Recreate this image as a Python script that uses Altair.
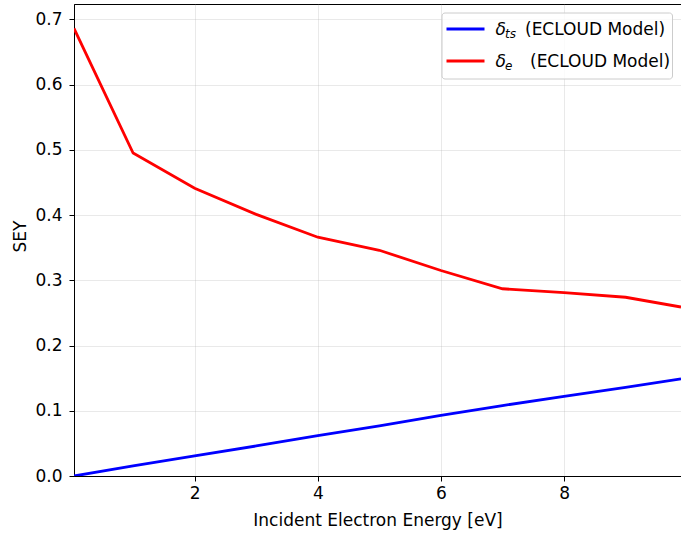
import altair as alt
import pandas as pd

# Data
energy = [0.04, 1, 2, 3, 4, 5, 6, 7, 8, 9, 9.9]
delta_ts = [0.0, 0.0155, 0.031, 0.046, 0.062, 0.077, 0.093, 0.108, 0.122, 0.136, 0.149]
delta_e = [0.686, 0.495, 0.441, 0.401, 0.366, 0.346, 0.315, 0.287, 0.281, 0.274, 0.259]

series_names = ["delta_ts", "delta_e"]
series_colors = ["#0000ff", "#ff0000"]
legend_sub = ["ts", "e"]
legend_rest = ["(ECLOUD Model)", "(ECLOUD Model)"]

y_ticks = [0.0, 0.1, 0.2, 0.3, 0.4, 0.5, 0.6, 0.7]
x_ticks = [2, 4, 6, 8]

W, H = 607, 472
FS = 17

rows = []
for i, e in enumerate(energy):
    rows.append({"E": e, "SEY": delta_ts[i], "s": "delta_ts"})
    rows.append({"E": e, "SEY": delta_e[i], "s": "delta_e"})
df = pd.DataFrame(rows)

xscale = alt.Scale(domain=[0.04, 9.9], nice=False, zero=False)
yscale = alt.Scale(domain=[0, 0.7235], nice=False)

lines = alt.Chart(df).mark_line(strokeWidth=2.8, clip=True).encode(
    x=alt.X("E:Q", scale=xscale,
            axis=alt.Axis(values=x_ticks, format="d", title="Incident Electron Energy [eV]",
                          titleY=44, titleBaseline="middle")),
    y=alt.Y("SEY:Q", scale=yscale,
            axis=alt.Axis(values=y_ticks, format=".1f", title="SEY",
                          titleX=-54, titleY=H / 2 - 4, titleBaseline="middle")),
    color=alt.Color("s:N", scale=alt.Scale(domain=series_names, range=series_colors), legend=None),
)

# manual legend (matplotlib style)
legend_box = alt.Chart(pd.DataFrame({"a": [0]})).mark_rect(
    fill="white", fillOpacity=0.8, stroke="#cccccc", strokeWidth=1, cornerRadius=3
).encode(x=alt.value(368), x2=alt.value(598.5), y=alt.value(9), y2=alt.value(75))

row_y = [25, 57]
rest_x = [451, 456]
layers = [lines, legend_box]
for i in range(2):
    ldf = pd.DataFrame({"sub": [legend_sub[i]], "rest": [legend_rest[i]]})
    base = alt.Chart(ldf)
    layers.append(base.mark_rule(color=series_colors[i], strokeWidth=2.8).encode(
        x=alt.value(372.5), x2=alt.value(410.5), y=alt.value(row_y[i])))
    layers.append(base.mark_text(text="δ", fontStyle="italic", fontSize=FS, align="left",
                                 baseline="alphabetic", font="DejaVu Sans", color="black").encode(
        x=alt.value(421.5), y=alt.value(row_y[i] + 6)))
    layers.append(base.mark_text(fontStyle="italic", fontSize=12, align="left",
                                 baseline="alphabetic", font="DejaVu Sans", color="black").encode(
        text="sub:N", x=alt.value(431), y=alt.value(row_y[i] + 8.5)))
    layers.append(base.mark_text(fontSize=FS, align="left", baseline="alphabetic",
                                 font="DejaVu Sans", color="black").encode(
        text="rest:N", x=alt.value(rest_x[i]), y=alt.value(row_y[i] + 6)))

chart = alt.layer(*layers).properties(
    width=W, height=H,
    autosize=alt.AutoSizeParams(type="none"),
    padding={"left": 74, "top": 4, "right": 0, "bottom": 58},
).configure_view(
    stroke="black", strokeWidth=1
).configure_axis(
    domainColor="black", domainWidth=1,
    tickColor="black", tickSize=5, tickWidth=1,
    labelFont="DejaVu Sans", labelFontSize=FS, labelColor="black",
    titleFont="DejaVu Sans", titleFontSize=FS, titleColor="black", titleFontWeight="normal",
    gridColor="#b0b0b0", gridOpacity=0.35, gridWidth=0.8,
    labelFlush=False, labelOverlap=False,
).configure_axisX(
    labelPadding=4
).configure_axisY(
    labelPadding=7
)

chart.save("out.html", embed_options={"renderer": "svg", "actions": False})
